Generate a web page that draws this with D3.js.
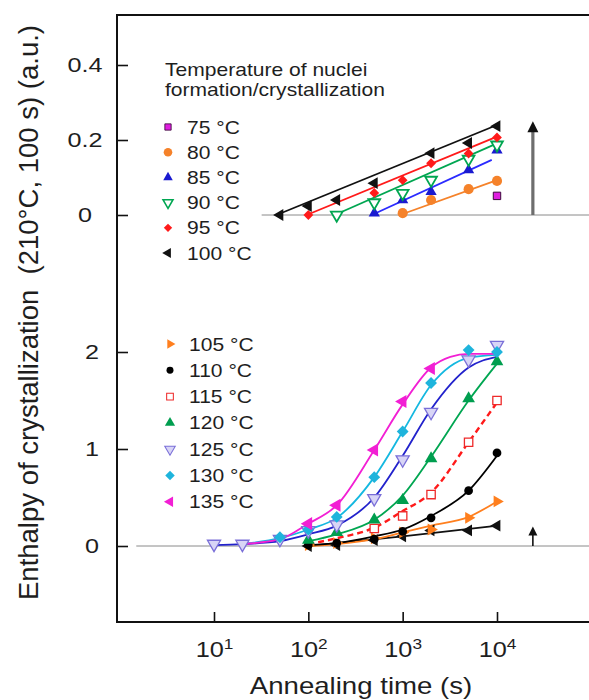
<!DOCTYPE html>
<html>
<head>
<meta charset="utf-8">
<script src="https://cdnjs.cloudflare.com/ajax/libs/d3/7.8.5/d3.min.js"></script>
<style>
    body { margin: 0; background: #fff; }
    text { font-family: "Liberation Sans", Arial, sans-serif; fill: #1e1e1e; }
</style>
</head>
<body>
<script>

// ---------- values ----------

// axis ticks
var xTicks = [10, 100, 1000, 10000];
var yTicksTop = [0, 0.2, 0.4];
var yTicksBottom = [0, 1, 2];

// legend labels
var labelsTop = ["75 °C", "80 °C", "85 °C", "90 °C", "95 °C", "100 °C"];
var labelsBottom = ["105 °C", "110 °C", "115 °C", "120 °C", "125 °C", "130 °C", "135 °C"];
var legendTitle = ["Temperature of nuclei", "formation/crystallization"];

// upper panel: [annealing time (s), enthalpy]
var top75 = [[10000, 0.051]];
var top80 = [[1000, 0.005], [2000, 0.04], [5000, 0.069], [10000, 0.091]];
var top85 = [[500, 0.005], [1000, 0.04], [2000, 0.062], [5000, 0.12], [10000, 0.173]];
var top90 = [[200, 0], [500, 0.033], [1000, 0.058], [2000, 0.093], [5000, 0.149], [10000, 0.187]];
var top95 = [[100, 0], [500, 0.059], [1000, 0.093], [2000, 0.138], [5000, 0.164], [10000, 0.207]];
var top100 = [[50, 0], [100, 0.024], [200, 0.04], [500, 0.085], [2000, 0.165], [5000, 0.192], [10000, 0.237]];

// upper panel fitted straight lines (end points)
var fitTop80 = [[935, 0], [10000, 0.093]];
var fitTop85 = [[470, 0], [8800, 0.147]];
var fitTop90 = [[190, 0], [10000, 0.191]];
var fitTop95 = [[96, 0], [10000, 0.209]];
var fitTop100 = [[46, 0], [10000, 0.24]];

// lower panel points
var bot100 = [[100, 0], [200, 0.01], [500, 0.06], [1000, 0.1], [2000, 0.16], [5000, 0.16], [10000, 0.21]];
var bot105 = [[100, 0.01], [200, 0.03], [500, 0.08], [1000, 0.14], [2000, 0.17], [5000, 0.29], [10000, 0.46]];
var bot110 = [[100, 0.01], [200, 0.03], [500, 0.07], [1000, 0.15], [2000, 0.29], [5000, 0.57], [10000, 0.96]];
var bot115 = [[500, 0.18], [1000, 0.31], [2000, 0.53], [5000, 1.07], [10000, 1.5]];
var bot120 = [[100, 0.06], [200, 0.14], [500, 0.27], [1000, 0.47], [2000, 0.9], [5000, 1.52], [10000, 1.9]];
var bot125 = [[10, 0.02], [20, 0.02], [50, 0.07], [100, 0.16], [200, 0.22], [500, 0.49], [1000, 0.89], [2000, 1.38], [5000, 1.92], [10000, 2.07]];
var bot130 = [[50, 0.09], [100, 0.17], [200, 0.3], [500, 0.71], [1000, 1.18], [2000, 1.68], [5000, 2.02], [10000, 2.0]];
var bot135 = [[100, 0.23], [200, 0.42], [500, 0.99], [1000, 1.49], [2000, 1.83]];

// lower panel fitted curves
var fitBot100 = [[100, 0], [1000, 0.1], [10000, 0.21]];
var fitBot105 = [[100, 0], [200, 0.02], [500, 0.07], [1000, 0.14], [2000, 0.21], [5000, 0.3], [10000, 0.46]];
var fitBot110 = [[100, 0.01], [200, 0.03], [500, 0.1], [1000, 0.17], [2000, 0.31], [5000, 0.57], [10000, 0.93]];
var fitBot115 = [[100, 0.02], [200, 0.08], [500, 0.19], [1000, 0.36], [2000, 0.55], [5000, 1.07], [10000, 1.48]];
var fitBot120 = [[100, 0.05], [200, 0.12], [500, 0.27], [1000, 0.52], [2000, 0.92], [5000, 1.5], [10000, 1.88]];
var fitBot125 = [[10, 0.01], [20, 0.02], [50, 0.05], [100, 0.12], [200, 0.21], [500, 0.5], [1000, 0.93], [2000, 1.41], [5000, 1.84], [10000, 1.95]];
var fitBot130 = [[20, 0.02], [50, 0.08], [100, 0.17], [200, 0.29], [500, 0.71], [1000, 1.18], [2000, 1.66], [5000, 1.94], [10000, 1.97]];
var fitBot135 = [[20, 0.02], [50, 0.07], [100, 0.23], [200, 0.42], [500, 0.99], [1000, 1.46], [2000, 1.84], [3200, 1.95], [5000, 1.98], [10000, 1.98]];

// reference lines and arrows
var baselineTopStart = 32;
var baselineBottomStart = 1.5;
var arrowTime = 24000;
var arrowTopValue = 0.25;
var arrowBottomValue = 0.2;


// ---------- styles ----------

var sq = d3.symbolSquare, ci = d3.symbolCircle, tri = d3.symbolTriangle;

var stylesTop = [
    {type: sq, rot: 0, size: 55, fill: "#e01ee0", stroke: "#3c0a3c", sw: 1, line: null},
    {type: ci, rot: 0, size: 80, fill: "#f5822a", stroke: "none", line: "#f5822a"},
    {type: tri, rot: 0, size: 55, fill: "#1a1ad0", stroke: "none", line: "#2b2bff"},
    {type: tri, rot: 180, size: 60, fill: "#fff", stroke: "#00a651", sw: 1.8, line: "#00a651"},
    {type: sq, rot: 45, size: 48, fill: "#ff1a1a", stroke: "none", line: "#ff1a1a"},
    {type: tri, rot: -90, size: 60, fill: "#111", stroke: "none", line: "#111"}
];

var stylesBottom = [
    {type: tri, rot: 90, size: 60, fill: "#ff7f1e", stroke: "none", line: "#ff7f1e"},
    {type: ci, rot: 0, size: 60, fill: "#000", stroke: "none", line: "#000"},
    {type: sq, rot: 0, size: 70, fill: "#fff", stroke: "#ee2a2a", sw: 1.3, line: "#ff1a1a", dash: "6,4"},
    {type: tri, rot: 0, size: 70, fill: "#009e4f", stroke: "none", line: "#00a651"},
    {type: tri, rot: 180, size: 75, fill: "#d8d5f6", stroke: "#7a6fd8", sw: 1.3, line: "#2222cc"},
    {type: sq, rot: 45, size: 70, fill: "#1eb4dc", stroke: "none", line: "#14b8e0"},
    {type: tri, rot: -90, size: 75, fill: "#f21fd4", stroke: "none", line: "#f21fd4"}
];
var style100Bottom = {type: tri, rot: -90, size: 60, fill: "#111", stroke: "none", line: "#111"};

var seriesTop = [top75, top80, top85, top90, top95, top100];
var fitsTop = [null, fitTop80, fitTop85, fitTop90, fitTop95, fitTop100];
var seriesBottom = [bot105, bot110, bot115, bot120, bot125, bot130, bot135];
var fitsBottom = [fitBot105, fitBot110, fitBot115, fitBot120, fitBot125, fitBot130, fitBot135];


// ---------- layout ----------

var width = 589, height = 700;
var frame = {left: 117, right: 589, top: 15, bottom: 622};

var svg = d3.select("body").append("svg")
    .attr("width", width)
    .attr("height", height);

// log time axis and the two stacked value axes
var x = d3.scaleLog().domain([10, 10000]).range([214, 497]);
var yTop = d3.scaleLinear().domain([0, 0.4]).range([215, 65]);
var yBot = d3.scaleLinear().domain([0, 2]).range([546, 352]);

// text that is slightly wider than the font, like the source picture
function wideText(g, px, py, str, size, anchor, sx) {
    return g.append("text")
        .attr("transform", "translate(" + px + "," + py + ") scale(" + sx + ",1)")
        .attr("text-anchor", anchor)
        .style("font-size", size + "px")
        .text(str);
}

function marker(sel, st) {
    sel.attr("d", d3.symbol().type(st.type).size(st.size)())
        .attr("fill", st.fill)
        .attr("stroke", st.stroke)
        .attr("stroke-width", st.sw || 1);
}

// thin grey zero lines
svg.append("line")
    .attr("x1", x(baselineTopStart)).attr("x2", frame.right)
    .attr("y1", yTop(0)).attr("y2", yTop(0))
    .attr("stroke", "#8a8a8a").attr("stroke-width", 1);
svg.append("line")
    .attr("x1", x(baselineBottomStart)).attr("x2", frame.right)
    .attr("y1", yBot(0)).attr("y2", yBot(0))
    .attr("stroke", "#8a8a8a").attr("stroke-width", 1);

// axes: ticks point inward
var gLeftTop = svg.append("g")
    .attr("transform", "translate(" + frame.left + ",0)")
    .call(d3.axisLeft(yTop).tickValues(yTicksTop).tickSizeInner(-11).tickSizeOuter(0)
        .tickFormat(function(d) { return d === 0 ? "0" : d3.format(".1f")(d); }));
var gLeftBot = svg.append("g")
    .attr("transform", "translate(" + frame.left + ",0)")
    .call(d3.axisLeft(yBot).tickValues(yTicksBottom).tickSizeInner(-11).tickSizeOuter(0)
        .tickFormat(d3.format("d")));

[[gLeftTop, -32], [gLeftBot, -25]].forEach(function(p) {
    p[0].select(".domain").remove();
    p[0].selectAll(".tick line").attr("stroke", "#111").attr("stroke-width", 1.6);
    p[0].selectAll(".tick text")
        .attr("x", null)
        .attr("text-anchor", "middle")
        .attr("transform", "translate(" + p[1] + ",0) scale(1.2,1)")
        .style("font-size", "21px")
        .attr("fill", "#1e1e1e");
});

var gBottom = svg.append("g")
    .attr("transform", "translate(0," + frame.bottom + ")")
    .call(d3.axisBottom(x).tickValues(xTicks).tickSizeInner(-10).tickSizeOuter(0).tickFormat(""));
gBottom.select(".domain").remove();
gBottom.selectAll(".tick line").attr("stroke", "#111").attr("stroke-width", 1.6);
gBottom.selectAll(".tick").each(function(d) {
    var t = d3.select(this).append("text")
        .attr("transform", "translate(0,35) scale(1.15,1)")
        .attr("text-anchor", "middle")
        .style("font-size", "22px");
    t.append("tspan").text("10");
    t.append("tspan").attr("dy", "-0.55em").style("font-size", "15px")
        .text(Math.round(Math.log10(d)));
});

// frame, open on the right
svg.append("path")
    .attr("d", "M" + frame.right + "," + frame.top + "H" + frame.left + "V" + frame.bottom + "H" + frame.right)
    .attr("fill", "none")
    .attr("stroke", "#111")
    .attr("stroke-width", 2);

// axis titles
wideText(svg, 361, 694, "Annealing time (s)", 23, "middle", 1.2);
svg.append("text")
    .attr("transform", "translate(38,600) rotate(-90)")
    .attr("text-anchor", "start")
    .style("font-size", "27.5px")
    .style("white-space", "pre")
    .text("Enthalpy of crystallization  (210\u00b0C, 100 s) (a.u.)");

// arrows marking the right-hand end
svg.append("line")
    .attr("x1", x(arrowTime)).attr("x2", x(arrowTime))
    .attr("y1", yTop(0)).attr("y2", yTop(arrowTopValue) + 9)
    .attr("stroke", "#6e6e6e").attr("stroke-width", 3.2);
svg.append("path")
    .attr("d", d3.line()([[x(arrowTime), yTop(arrowTopValue)], [x(arrowTime) - 5.5, yTop(arrowTopValue) + 11], [x(arrowTime) + 5.5, yTop(arrowTopValue) + 11]]))
    .attr("fill", "#111");
svg.append("line")
    .attr("x1", x(arrowTime)).attr("x2", x(arrowTime))
    .attr("y1", yBot(0)).attr("y2", yBot(arrowBottomValue) + 6)
    .attr("stroke", "#111").attr("stroke-width", 1.6);
svg.append("path")
    .attr("d", d3.line()([[x(arrowTime), yBot(arrowBottomValue)], [x(arrowTime) - 4.5, yBot(arrowBottomValue) + 9], [x(arrowTime) + 4.5, yBot(arrowBottomValue) + 9]]))
    .attr("fill", "#111");

// line generators
var lineTop = d3.line().x(function(d) { return x(d[0]); }).y(function(d) { return yTop(d[1]); });
var lineBot = d3.line().x(function(d) { return x(d[0]); }).y(function(d) { return yBot(d[1]); })
    .curve(d3.curveMonotoneX);

// upper panel
var gTop = svg.append("g");
fitsTop.forEach(function(f, i) {
    if (!f) return;
    gTop.append("path").attr("d", lineTop(f))
        .attr("fill", "none").attr("stroke", stylesTop[i].line).attr("stroke-width", 1.8);
});
seriesTop.forEach(function(s, i) {
    var st = stylesTop[i];
    gTop.selectAll(null).data(s).join("path")
        .call(marker, st)
        .attr("transform", function(d) {
            return "translate(" + x(d[0]) + "," + yTop(d[1]) + ") rotate(" + st.rot + ")";
        });
});

// lower panel: 100 degC series again, then the rest
var gBot = svg.append("g");
gBot.append("path").attr("d", lineBot(fitBot100))
    .attr("fill", "none").attr("stroke", style100Bottom.line).attr("stroke-width", 1.8);
fitsBottom.forEach(function(f, i) {
    gBot.append("path").attr("d", lineBot(f))
        .attr("fill", "none").attr("stroke", stylesBottom[i].line)
        .attr("stroke-width", stylesBottom[i].dash ? 2.4 : 1.8)
        .attr("stroke-dasharray", stylesBottom[i].dash || null);
});
gBot.selectAll(null).data(bot100).join("path")
    .call(marker, style100Bottom)
    .attr("transform", function(d) {
        return "translate(" + x(d[0]) + "," + yBot(d[1]) + ") rotate(" + style100Bottom.rot + ")";
    });
seriesBottom.forEach(function(s, i) {
    var st = stylesBottom[i];
    gBot.selectAll(null).data(s).join("path")
        .call(marker, st)
        .attr("transform", function(d) {
            return "translate(" + x(d[0]) + "," + yBot(d[1]) + ") rotate(" + st.rot + ")";
        });
});

// legends
var gLeg = svg.append("g");
wideText(gLeg, 165, 76, legendTitle[0], 18, "start", 1.17);
wideText(gLeg, 165, 96, legendTitle[1], 18, "start", 1.17);

labelsTop.forEach(function(lab, i) {
    var cy = 127 + i * 25.2;
    gLeg.append("path").call(marker, stylesTop[i])
        .attr("transform", "translate(168," + cy + ") rotate(" + stylesTop[i].rot + ") scale(0.85)");
    wideText(gLeg, 187, cy + 6.5, lab, 18, "start", 1.17);
});
labelsBottom.forEach(function(lab, i) {
    var cy = 344 + i * 26.3;
    gLeg.append("path").call(marker, stylesBottom[i])
        .attr("transform", "translate(170," + cy + ") rotate(" + stylesBottom[i].rot + ") scale(0.8)");
    wideText(gLeg, 189, cy + 6.5, lab, 18, "start", 1.17);
});

</script>
</body>
</html>
